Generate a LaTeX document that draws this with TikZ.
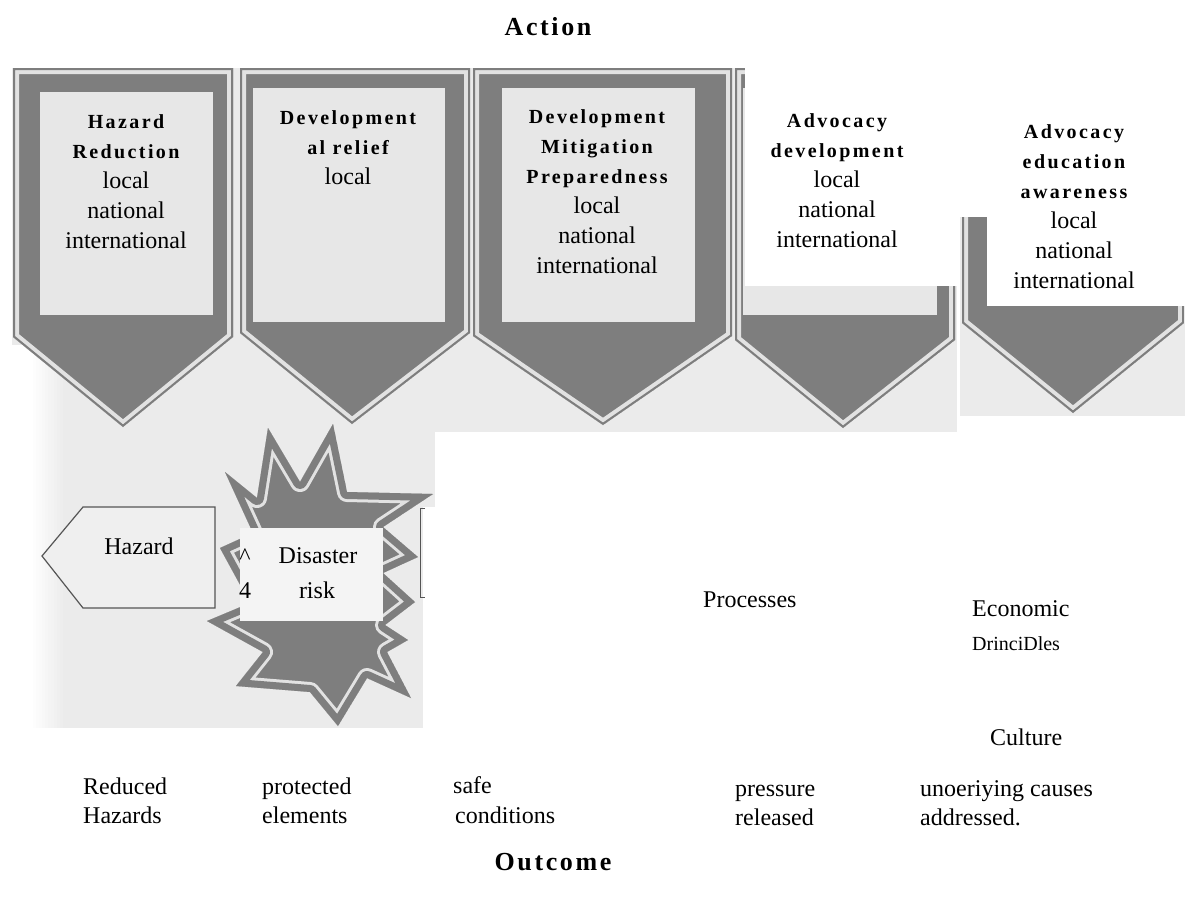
\documentclass[tikz,border=0pt]{standalone}
\usepackage{fontspec}
\setmainfont{Liberation Serif}
\newfontfamily\hdfont[LetterSpace=12]{Liberation Serif}
\newfontfamily\ttlfont[LetterSpace=10]{Liberation Serif}
\definecolor{scanbg}{HTML}{EBEBEB}
\definecolor{chevdark}{HTML}{7E7E7E}
\definecolor{chevlight}{HTML}{E2E2E2}
\definecolor{innerbox}{HTML}{E7E7E7}
\definecolor{hazfill}{HTML}{EFEFEF}
\definecolor{edgecol}{HTML}{555555}
\definecolor{boxwhite}{HTML}{F4F4F4}
\newcommand{\hd}[1]{{\hdfont\bfseries\fontsize{20}{30}\selectfont #1}}
% #1 outline path, #2 width of the dark rim (doubled), #3 end of the light stripe (doubled)
\newcommand{\banded}[3]{\begin{scope}\clip #1; \fill[chevdark] #1; \draw[chevlight, line width=#3, line join=round] #1; \draw[chevdark, line width=#2, line join=round] #1; \end{scope}}
\tikzset{
  txt/.style={inner sep=0pt, font=\fontsize{24}{30}\selectfont},
  boxtxt/.style={txt, align=center, anchor=north},
  lowtxt/.style={txt, anchor=base west},
  ttl/.style={inner sep=0pt, anchor=base, font=\ttlfont\bfseries\fontsize{26}{30}\selectfont},
  innerrect/.style={fill=innerbox},
  hazbox/.style={fill=hazfill, draw=edgecol, line width=1.2pt},
}
\begin{document}
\begin{tikzpicture}[x=1pt,y=-1pt]
\useasboundingbox (0,0) rectangle (1185,900);
\fill[white] (0,0) rectangle (1185,900);
% scanned background pieces
\fill[scanbg] (12,68) rectangle (957,432);
\fill[scanbg] (20,432) rectangle (423,728);
\fill[scanbg] (423,432) rectangle (435,507);
\fill[scanbg] (960,217) rectangle (1185,416);
\fill[white] (12,345) rectangle (30,728);
\foreach \i in {0,...,11}{
  \pgfmathtruncatemacro\pc{\i*9}
  \fill[scanbg!\pc!white] ({30+\i*3},345) rectangle ({33.5+\i*3},728);
}
% chevrons and burst
\begin{scope}
  \clip (12,68) rectangle (957,432) (20,432) rectangle (423,728) (423,432) rectangle (435,507);
  \banded{(13,68) -- (233,68) -- (233,337) -- (123,427) -- (13,337) -- cycle}{4pt}{12pt}
  \fill[innerrect] (40,92) rectangle (213,315);
  \banded{(240,68) -- (470,68) -- (470,333) -- (352,424) -- (240,333) -- cycle}{4pt}{12pt}
  \fill[innerrect] (253,88) rectangle (445,322);
  \banded{(473,68) -- (732,68) -- (732,336) -- (603,425) -- (473,336) -- cycle}{4pt}{12pt}
  \fill[innerrect] (502,88) rectangle (695,322);
  \banded{(735,68) -- (955,68) -- (955,340) -- (843,428) -- (735,340) -- cycle}{4pt}{12pt}
  \fill[innerrect] (743,88) rectangle (937,315);
  \banded{(268,428) -- (300,482) -- (333,424) -- (347,492) -- (433,494) -- (383,527) -- (418,557) -- (383,573) -- (415,602) -- (385,625) -- (408,640) -- (387,652) -- (411,698) -- (367,678) -- (338,726) -- (310,692) -- (236,686) -- (263,652) -- (207,621) -- (250,603) -- (220,548) -- (253,533) -- (225,472) -- (257,498) -- cycle}{14pt}{20pt}
\end{scope}
\begin{scope}
  \clip (960,217) rectangle (1185,416);
  \banded{(962,68) -- (1184,68) -- (1184,323) -- (1073,413) -- (962,323) -- cycle}{4pt}{12pt}
\end{scope}
% hazard box
\draw[hazbox] (42,556) -- (83,507) -- (215,507) -- (215,608) -- (83,608) -- cycle;
% white patches
\fill[white] (745,60) rectangle (957,286);
\fill[white] (987,210) rectangle (1185,306);
\fill[boxwhite] (240,528) rectangle (383,621);
\draw[edgecol, line width=1pt] (425,508) -- (420,508) -- (420,597) -- (425,597);
% titles
\node[ttl] (action) at (548,35) {Action};
\node[ttl] (outcome) at (553,870) {Outcome};
% chevron texts
\node[boxtxt] (hr) at (126,114.5) {\hd{Hazard}\\\hd{Reduction}\\local\\national\\international};
\node[boxtxt] (dr) at (348,110.5) {\hd{Development}\\\hd{al relief}\\local};
\node[boxtxt] (dm) at (597,109.5) {\hd{Development}\\\hd{Mitigation}\\\hd{Preparedness}\\local\\national\\international};
\node[boxtxt] (ad) at (837,113.5) {\hd{Advocacy}\\\hd{development}\\local\\national\\international};
\node[boxtxt] (ae) at (1074,124.5) {\hd{Advocacy}\\\hd{education}\\\hd{awareness}\\local\\national\\international};
% middle texts
\node[txt, anchor=base] (hazard) at (139,554) {Hazard};
\node[txt, anchor=base] (disaster) at (318,563) {Disaster};
\node[txt, anchor=base] (risk) at (317,598) {risk};
\node[txt, anchor=base] (caret) at (245,564) {\textasciicircum};
\node[txt, anchor=base] (four) at (245,598) {4};
\node[lowtxt] (processes) at (703,607) {Processes};
\node[lowtxt] (economic) at (972,616) {Economic};
\node[lowtxt, font=\fontsize{20}{25}\selectfont] (principles) at (972,650) {DrinciDles};
\node[lowtxt] (culture) at (990,745) {Culture};
% outcome texts
\node[lowtxt] (reduced) at (83,794) {Reduced};
\node[lowtxt] (hazards) at (83,823) {Hazards};
\node[lowtxt] (protected) at (262,794) {protected};
\node[lowtxt] (elements) at (262,823) {elements};
\node[lowtxt] (safe) at (453,793) {safe};
\node[lowtxt] (conditions) at (455,823) {conditions};
\node[lowtxt] (pressure) at (735,796) {pressure};
\node[lowtxt] (released) at (735,825) {released};
\node[lowtxt] (underlying) at (920,796) {unoeriying causes};
\node[lowtxt] (addressed) at (920,825) {addressed.};
\end{tikzpicture}
\end{document}
